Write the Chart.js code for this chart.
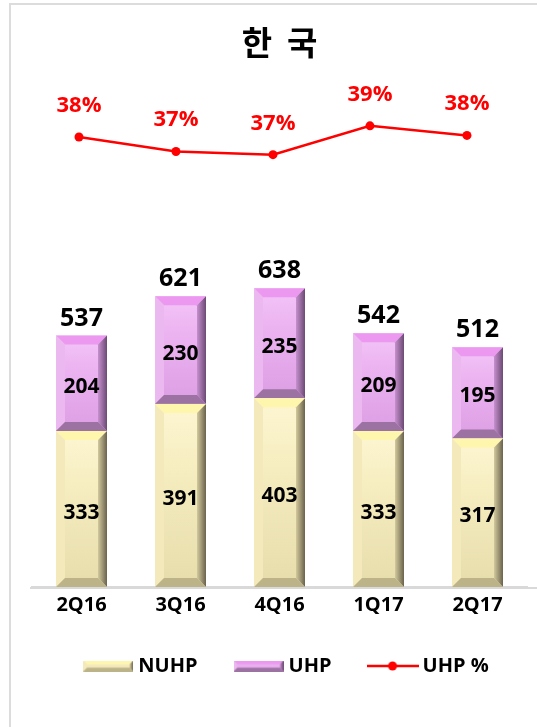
<!DOCTYPE html>
<html>
<head>
<meta charset="utf-8">
<script src="https://cdn.jsdelivr.net/npm/chart.js@4.4.1/dist/chart.umd.min.js"></script>
<style>
    html, body { margin: 0; padding: 0; background: #fff; overflow: hidden; }
    #frame { position: absolute; left: 9px; top: 3px; width: 600px; height: 800px; border: 2px solid #dcdcdc; }
    #wrap { position: absolute; left: 0; top: 0; width: 537px; height: 727px; }
</style>
</head>
<body>
<div id="frame"></div>
<div id="wrap"><canvas id="koreaChart" width="537" height="727"></canvas></div>
<script>
const quarters = ["2Q16", "3Q16", "4Q16", "1Q17", "2Q17"];
const nuhp = [333, 391, 403, 333, 317];
const uhp = [204, 230, 235, 209, 195];
const uhpPct = [38.0, 37.1, 36.9, 38.7, 38.1];
const seriesNames = ["NUHP", "UHP", "UHP %"];

const FONT = "'Open Sans', 'Noto Sans CJK KR', sans-serif";

const palettes = [
    // NUHP
    { faceL: "#fdf6d2", face: "#f6edc0", faceR: "#e6dcab", top: "#fff6ad", left: "#f3e9bb", rightA: "#d3c99d", rightB: "#6a634c", bottom: "#bdb389", base: "#f6edc0" },
    // UHP
    { faceL: "#f3c6f7", face: "#ecb3f1", faceR: "#dc9ee3", top: "#ec98f1", left: "#ecb8f0", rightA: "#c690ce", rightB: "#6c4a74", bottom: "#9c72a3", base: "#ecb3f1" },
];

function poly(ctx, pts, fill) {
    ctx.beginPath();
    ctx.moveTo(pts[0][0], pts[0][1]);
    for (let i = 1; i < pts.length; i++) ctx.lineTo(pts[i][0], pts[i][1]);
    ctx.closePath();
    ctx.fillStyle = fill;
    ctx.fill();
}

// beveled "3D" bar look
function bevelBar(ctx, L, T, R, B, pal) {
    const w = R - L, h = B - T;
    if (w <= 0 || h <= 0) return;
    const b = Math.min(9, w / 4, h / 3);
    ctx.save();
    let g = ctx.createLinearGradient(0, T, 0, B);
    g.addColorStop(0, pal.faceL);
    g.addColorStop(0.35, pal.face);
    g.addColorStop(1, pal.faceR);
    ctx.fillStyle = g;
    ctx.fillRect(L, T, w, h);
    poly(ctx, [[L, T], [R, T], [R - b, T + b], [L + b, T + b]], pal.top);
    poly(ctx, [[L, T], [L + b, T + b], [L + b, B - b], [L, B]], pal.left);
    let gr = ctx.createLinearGradient(R - b, 0, R, 0);
    gr.addColorStop(0, pal.rightA);
    gr.addColorStop(1, pal.rightB);
    poly(ctx, [[R, T], [R, B], [R - b, B - b], [R - b, T + b]], gr);
    poly(ctx, [[L, B], [L + b, B - b], [R - b, B - b], [R, B]], pal.bottom);
    ctx.restore();
}

function makeSwatch(pal) {
    const c = document.createElement("canvas");
    c.width = 50;
    c.height = 11;
    bevelBar(c.getContext("2d"), 0, 0, 50, 11, pal);
    return c;
}

function makeLineSwatch() {
    const c = document.createElement("canvas");
    c.width = 52;
    c.height = 12;
    const ctx = c.getContext("2d");
    ctx.strokeStyle = "#ff0000";
    ctx.lineWidth = 2.5;
    ctx.beginPath();
    ctx.moveTo(0, 6);
    ctx.lineTo(52, 6);
    ctx.stroke();
    ctx.fillStyle = "#ff0000";
    ctx.beginPath();
    ctx.arc(26, 6, 4.5, 0, Math.PI * 2);
    ctx.fill();
    return c;
}

const swatches = [makeSwatch(palettes[0]), makeSwatch(palettes[1]), makeLineSwatch()];

const barLook = {
    id: "barLook",
    afterLayout(chart) {
        // nudge legend to where the original sits
        const lg = chart.legend;
        lg.left += 9;
        lg.right += 9;
        lg.top -= 8;
        lg.bottom -= 8;
    },
    beforeDatasetDraw(chart, args) {
        const ds = chart.data.datasets[args.index];
        if (ds.type === "line") return;
        const pal = palettes[args.index];
        args.meta.data.forEach((el) => {
            const { x, y, base, width } = el.getProps(["x", "y", "base", "width"], true);
            bevelBar(chart.ctx, x - width / 2, Math.min(y, base), x + width / 2, Math.max(y, base), pal);
        });
        return false;
    },
    afterDatasetsDraw(chart) {
        const ctx = chart.ctx;
        ctx.save();
        ctx.textAlign = "center";
        ctx.textBaseline = "alphabetic";

        // numbers inside segments
        ctx.fillStyle = "#000";
        ctx.font = "bold 21px " + FONT;
        [0, 1].forEach((di) => {
            const meta = chart.getDatasetMeta(di);
            meta.data.forEach((el, i) => {
                const { x, y, base } = el.getProps(["x", "y", "base"], true);
                ctx.fillText(String(chart.data.datasets[di].data[i]), x, (y + base) / 2 + 9.5);
            });
        });

        // totals above the stack
        ctx.font = "bold 25px " + FONT;
        chart.getDatasetMeta(1).data.forEach((el, i) => {
            ctx.fillText(String(nuhp[i] + uhp[i]), el.x, el.y - 10);
        });

        // percentage labels
        ctx.fillStyle = "#ff0000";
        ctx.font = "bold 22px " + FONT;
        chart.getDatasetMeta(2).data.forEach((pt, i) => {
            ctx.fillText(Math.round(uhpPct[i]) + "%", pt.x, pt.y - 25);
        });

        // axis line runs on to the right edge
        const a = chart.chartArea;
        ctx.strokeStyle = "#d9d9d9";
        ctx.lineWidth = 2;
        ctx.beginPath();
        ctx.moveTo(a.left - 2, a.bottom + 1);
        ctx.lineTo(chart.width, a.bottom + 1);
        ctx.stroke();
        ctx.restore();
    },
};

const chartConfig = {
    type: "bar",
    data: {
        labels: quarters,
        datasets: [
            {
                label: seriesNames[0],
                data: nuhp,
                backgroundColor: palettes[0].base,
                barPercentage: 0.515,
                categoryPercentage: 1,
                grouped: false,
                stack: "s",
                xAxisID: "x",
                yAxisID: "y",
            },
            {
                label: seriesNames[1],
                data: uhp,
                backgroundColor: palettes[1].base,
                barPercentage: 0.515,
                categoryPercentage: 1,
                grouped: false,
                stack: "s",
                xAxisID: "x",
                yAxisID: "y",
            },
            {
                label: seriesNames[2],
                type: "line",
                data: uhpPct.map((v, i) => ({ x: i, y: v })),
                xAxisID: "xl",
                yAxisID: "y2",
                borderColor: "#ff0000",
                borderWidth: 2.5,
                pointRadius: 4.5,
                pointBackgroundColor: "#ff0000",
                pointBorderWidth: 0,
                tension: 0,
            },
        ],
    },
    options: {
        responsive: false,
        animation: false,
        layout: { padding: { left: 32, right: 10, top: 0, bottom: 33 } },
        plugins: {
            title: {
                display: true,
                text: "한  국",
                color: "#000",
                font: { family: "'Noto Sans CJK KR', sans-serif", size: 33, weight: "bold" },
                padding: { top: 23, bottom: 28 },
            },
            legend: {
                position: "bottom",
                labels: {
                    usePointStyle: true,
                    pointStyleWidth: 40,
                    padding: 41,
                    color: "#000",
                    font: { family: FONT, size: 20, weight: "bold" },
                    generateLabels: (chart) =>
                        chart.data.datasets.map((ds, i) => ({
                            text: ds.label,
                            pointStyle: swatches[i],
                            fillStyle: "transparent",
                            strokeStyle: "transparent",
                            lineWidth: 0,
                            hidden: false,
                            datasetIndex: i,
                            fontColor: "#000",
                        })),
                },
            },
            tooltip: { enabled: false },
        },
        scales: {
            x: {
                stacked: true,
                grid: { display: false, drawTicks: false },
                border: { color: "#d9d9d9", width: 2 },
                ticks: { color: "#000", padding: 6, font: { family: FONT, size: 20, weight: "bold" } },
            },
            y: { stacked: true, display: false, min: 0, max: 1060 },
            y2: { display: false, min: 9.9, max: 40.9 },
            xl: { type: "linear", display: false, offset: false, bounds: "data", min: -0.4845, max: 4.619 },
        },
    },
    plugins: [barLook],
};

const myChart = new Chart(document.getElementById("koreaChart"), chartConfig);
</script>
</body>
</html>
